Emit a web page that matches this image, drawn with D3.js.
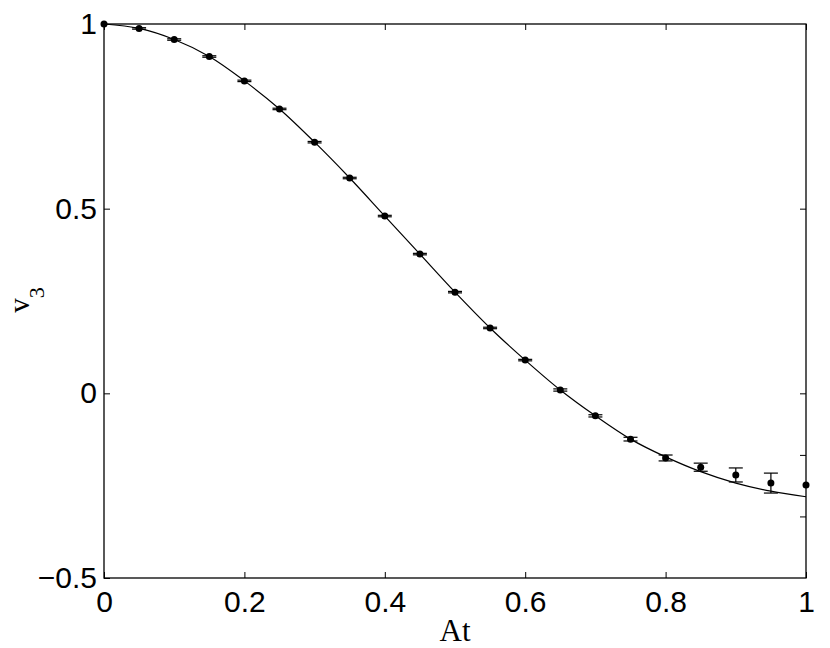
<!DOCTYPE html>
<html>
<head>
<meta charset="utf-8">
<script src="https://cdn.jsdelivr.net/npm/d3@7"></script>
<style>
	body { margin: 0; background: #fff; }
	svg { display: block; }
</style>
</head>
<body>
<svg id="chart" width="830" height="648"></svg>
<script>
// -------------- DATA --------------
const atValues = [0, 0.05, 0.1, 0.15, 0.2, 0.25, 0.3, 0.35, 0.4, 0.45, 0.5,
	0.55, 0.6, 0.65, 0.7, 0.75, 0.8, 0.85, 0.9, 0.95, 1.0];
const v3Points = [1.0, 0.988, 0.958, 0.912, 0.846, 0.770, 0.680, 0.583, 0.480, 0.377, 0.274,
	0.177, 0.090, 0.009, -0.061, -0.124, -0.175, -0.200, -0.221, -0.243, -0.248];
const v3Errors = [0, 0.002, 0.002, 0.002, 0.002, 0.002, 0.002, 0.002, 0.002, 0.002, 0.002,
	0.002, 0.002, 0.003, 0.003, 0.005, 0.008, 0.011, 0.019, 0.027, 0];
const v3Curve = [1.0, 0.988, 0.958, 0.912, 0.846, 0.770, 0.680, 0.583, 0.480, 0.377, 0.274,
	0.177, 0.090, 0.009, -0.061, -0.124, -0.172, -0.212, -0.243, -0.265, -0.280];
const xTicks = [0, 0.2, 0.4, 0.6, 0.8, 1];
const yTicks = [-0.5, 0, 0.5, 1];
const yTicksRight = [0.5, 0, -0.1667, -0.3333];

const size = { w: 830, h: 648 };
const margin = { l: 104, r: 24, t: 24, b: 70 };

const svg = d3.select("#chart");

let xScale = d3.scaleLinear()
	.domain([0, 1])
	.range([margin.l, size.w - margin.r]);

let yScale = d3.scaleLinear()
	.domain([-0.5, 1])
	.range([size.h - margin.b, margin.t]);

// -------------- AXES --------------
const tickFont = "'Liberation Sans', Arial, Helvetica, sans-serif";

function styleAxis(g) {
	g.select(".domain").remove();
	g.selectAll("line").attr("stroke", "#000").attr("stroke-width", 1);
	g.selectAll("text")
		.attr("font-family", tickFont)
		.attr("font-size", 30)
		.attr("fill", "#000");
}

let fmt = (d) => d3.format("")(d);

svg.append("g")
	.attr("transform", `translate(0, ${size.h - margin.b})`)
	.call(d3.axisBottom(xScale).tickValues(xTicks).tickFormat(fmt)
		.tickSizeInner(-6).tickSizeOuter(0).tickPadding(13))
	.call(styleAxis);

svg.append("g")
	.attr("transform", `translate(0, ${margin.t})`)
	.call(d3.axisTop(xScale).tickValues(xTicks).tickFormat("")
		.tickSizeInner(-6).tickSizeOuter(0))
	.call(styleAxis);

svg.append("g")
	.attr("transform", `translate(${margin.l}, 0)`)
	.call(d3.axisLeft(yScale).tickValues(yTicks).tickFormat(fmt)
		.tickSizeInner(-6).tickSizeOuter(0).tickPadding(7))
	.call(styleAxis);

svg.append("g")
	.attr("transform", `translate(${size.w - margin.r}, 0)`)
	.call(d3.axisRight(yScale).tickValues(yTicksRight).tickFormat("")
		.tickSizeInner(-6).tickSizeOuter(0))
	.call(styleAxis);

// box
svg.append("rect")
	.attr("x", margin.l)
	.attr("y", margin.t)
	.attr("width", size.w - margin.l - margin.r)
	.attr("height", size.h - margin.t - margin.b)
	.attr("fill", "none")
	.attr("stroke", "#000")
	.attr("stroke-width", 1.3);

// axis labels
svg.append("text")
	.attr("x", (margin.l + size.w - margin.r) / 2)
	.attr("y", 641)
	.attr("text-anchor", "middle")
	.attr("font-family", "'Liberation Serif', 'Times New Roman', serif")
	.attr("font-size", 31)
	.text("At");

let yLab = svg.append("text")
	.attr("transform", "translate(29, 300) rotate(-90)")
	.attr("text-anchor", "middle")
	.attr("font-family", "'Liberation Serif', 'Times New Roman', serif")
	.attr("font-size", 29);
yLab.append("tspan").text("v");
yLab.append("tspan").attr("dy", 15).attr("font-size", 22).text("3");

// -------------- CURVE, ERROR BARS, POINTS --------------
const pts = atValues.map((x, i) => ({ x: x, y: v3Points[i], e: v3Errors[i], c: v3Curve[i] }));

svg.append("path")
	.datum(pts)
	.attr("fill", "none")
	.attr("stroke", "#000")
	.attr("stroke-width", 1.2)
	.attr("d", d3.line()
		.x((d) => xScale(d.x))
		.y((d) => yScale(d.c))
		.curve(d3.curveCatmullRom));

let errG = svg.append("g")
	.selectAll("g")
	.data(pts.filter((d) => d.e > 0))
	.join("g")
	.attr("stroke", "#000")
	.attr("stroke-width", 1.2);

errG.append("line")
	.attr("x1", (d) => xScale(d.x))
	.attr("x2", (d) => xScale(d.x))
	.attr("y1", (d) => yScale(d.y + d.e))
	.attr("y2", (d) => yScale(d.y - d.e));

errG.append("line")
	.attr("x1", (d) => xScale(d.x) - 7)
	.attr("x2", (d) => xScale(d.x) + 7)
	.attr("y1", (d) => yScale(d.y + d.e))
	.attr("y2", (d) => yScale(d.y + d.e));

errG.append("line")
	.attr("x1", (d) => xScale(d.x) - 7)
	.attr("x2", (d) => xScale(d.x) + 7)
	.attr("y1", (d) => yScale(d.y - d.e))
	.attr("y2", (d) => yScale(d.y - d.e));

svg.append("g")
	.selectAll("circle")
	.data(pts)
	.join("circle")
	.attr("cx", (d) => xScale(d.x))
	.attr("cy", (d) => yScale(d.y))
	.attr("r", 3.5)
	.attr("fill", "#000");
</script>
</body>
</html>
